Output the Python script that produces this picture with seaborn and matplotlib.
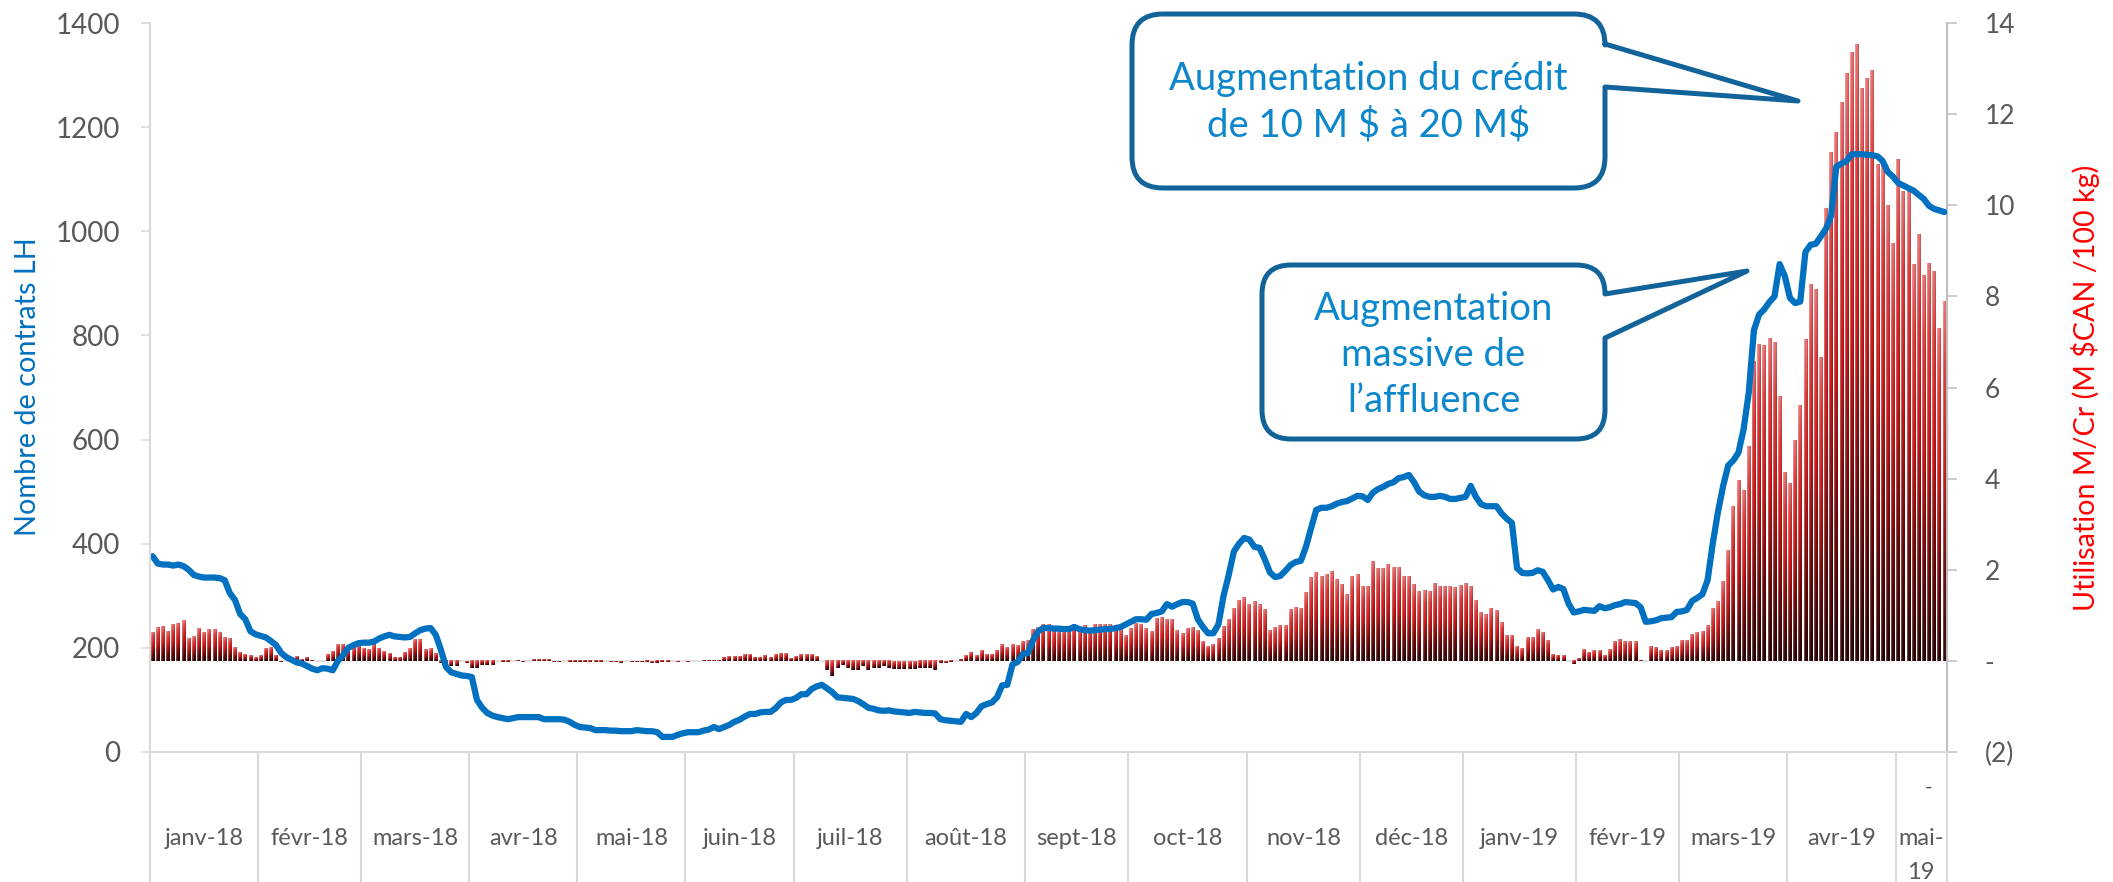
import numpy as np
import matplotlib
matplotlib.use("Agg")
import matplotlib.pyplot as plt
import seaborn as sns
from matplotlib.path import Path
from matplotlib.patches import PathPatch
from matplotlib.colors import LinearSegmentedColormap
from matplotlib.ticker import FuncFormatter
import matplotlib.transforms as mtransforms

# ---------------- data ----------------
months = ["janv-18", "févr-18", "mars-18", "avr-18", "mai-18", "juin-18", "juil-18",
          "août-18", "sept-18", "oct-18", "nov-18", "déc-18", "janv-19", "févr-19",
          "mars-19", "avr-19", "mai-19"]
days_per_month = [21, 20, 21, 21, 21, 21, 22, 23, 20, 23, 22, 20, 22, 20, 21, 21, 10]

# Nombre de contrats LH (left axis, blue line), one value per trading day
contracts_jan18 = [376, 362, 360, 360, 358, 360, 357, 350, 340, 337, 335, 335, 335, 334, 330, 305, 292, 265, 255, 232, 226]
contracts_feb18 = [223, 220, 213, 205, 190, 182, 177, 172, 170, 165, 160, 157, 161, 160, 157, 175, 186, 200, 205, 209]
contracts_mar18 = [210, 210, 212, 218, 222, 225, 222, 221, 220, 221, 228, 234, 237, 238, 225, 196, 163, 153, 150, 147, 146]
contracts_apr18 = [144, 100, 85, 75, 70, 67, 65, 63, 65, 67, 67, 67, 67, 67, 63, 63, 63, 63, 62, 58, 52]
contracts_may18 = [48, 47, 46, 42, 42, 42, 41, 41, 40, 40, 40, 42, 41, 40, 40, 38, 29, 29, 29, 33, 36]
contracts_jun18 = [38, 38, 38, 41, 43, 48, 44, 48, 52, 58, 62, 68, 73, 73, 76, 77, 77, 84, 95, 100, 100]
contracts_jul18 = [104, 111, 111, 121, 126, 129, 122, 115, 105, 104, 103, 102, 98, 92, 85, 83, 80, 79, 80, 78, 77, 76]
contracts_aug18 = [75, 77, 76, 75, 75, 74, 63, 61, 60, 59, 58, 73, 67, 75, 88, 92, 95, 105, 128, 129, 168, 173, 188]
contracts_sep18 = [190, 215, 232, 238, 238, 237, 237, 236, 236, 240, 236, 234, 233, 234, 235, 236, 236, 238, 240, 245]
contracts_oct18 = [250, 255, 255, 254, 265, 267, 270, 284, 279, 284, 288, 288, 285, 255, 240, 228, 228, 245, 300, 340, 385, 400, 411]
contracts_nov18 = [408, 394, 392, 370, 345, 336, 338, 348, 359, 365, 367, 394, 430, 465, 469, 469, 472, 477, 480, 482, 487, 492]
contracts_dec18 = [491, 484, 498, 505, 509, 515, 518, 526, 528, 532, 518, 500, 493, 490, 490, 492, 490, 486, 486, 488]
contracts_jan19 = [490, 511, 490, 476, 472, 472, 472, 458, 448, 440, 353, 344, 343, 344, 349, 346, 330, 312, 317, 313, 285, 268]
contracts_feb19 = [270, 273, 272, 271, 280, 276, 278, 282, 284, 288, 287, 286, 278, 250, 251, 253, 257, 258, 259, 269]
contracts_mar19 = [270, 273, 290, 296, 303, 330, 400, 460, 510, 550, 560, 575, 620, 690, 810, 840, 850, 864, 875, 937, 914]
contracts_apr19 = [872, 862, 865, 960, 974, 976, 990, 1005, 1030, 1124, 1130, 1135, 1148, 1148, 1148, 1147, 1146, 1144, 1135, 1114, 1105]
contracts_may19 = [1093, 1088, 1083, 1078, 1070, 1062, 1049, 1043, 1040, 1037]

# Utilisation M/Cr (M $CAN /100 kg) (right axis, red bars)
util_jan18 = [0.62, 0.73, 0.75, 0.64, 0.80, 0.83, 0.89, 0.50, 0.53, 0.72, 0.62, 0.69, 0.69, 0.62, 0.51, 0.50, 0.29, 0.18, 0.15, 0.12, 0.07]
util_feb18 = [0.12, 0.27, 0.29, 0.12, -0.02, 0, 0, 0.09, 0.03, 0.07, 0.02, 0, 0, 0.15, 0.20, 0.37, 0.37, 0.26, 0.29, 0.33]
util_mar18 = [0.28, 0.26, 0.37, 0.28, 0.20, 0.16, 0.07, 0.07, 0.18, 0.28, 0.48, 0.48, 0.26, 0.27, 0.17, -0.05, -0.09, -0.12, -0.12, 0, -0.04]
util_apr18 = [-0.16, -0.16, -0.09, -0.09, -0.09, 0, -0.03, -0.03, 0, 0.01, -0.02, 0, 0.04, 0.03, 0.03, 0.03, -0.02, -0.02, 0, -0.03, -0.03]
util_may18 = [-0.03, -0.03, -0.03, -0.03, -0.03, 0, -0.02, -0.02, -0.04, 0, -0.02, -0.02, -0.02, -0.03, -0.04, -0.05, -0.03, -0.03, 0, -0.02, 0]
util_jun18 = [-0.02, 0, 0, 0.02, 0.02, 0.02, 0.02, 0.07, 0.09, 0.09, 0.09, 0.15, 0.15, 0.08, 0.08, 0.12, 0.07, 0.15, 0.16, 0.16, 0.06]
util_jul18 = [0.09, 0.15, 0.15, 0.15, 0.09, 0, -0.20, -0.34, -0.16, -0.09, -0.16, -0.20, -0.20, -0.12, -0.20, -0.16, -0.16, -0.12, -0.16, -0.17, -0.17, -0.17]
util_aug18 = [-0.17, -0.17, -0.16, -0.16, -0.16, -0.20, -0.05, -0.04, -0.03, 0, 0.04, 0.13, 0.18, 0.13, 0.24, 0.15, 0.15, 0.22, 0.37, 0.29, 0.36, 0.35, 0.42]
util_sep18 = [0.46, 0.69, 0.74, 0.80, 0.80, 0.72, 0.69, 0.69, 0.72, 0.80, 0.72, 0.77, 0.69, 0.80, 0.80, 0.80, 0.80, 0.77, 0.69, 0.57]
util_oct18 = [0.72, 0.83, 0.80, 0.72, 0.64, 0.94, 0.96, 0.90, 0.91, 0.68, 0.61, 0.72, 0.74, 0.67, 0.42, 0.31, 0.37, 0.49, 0.75, 0.90, 1.15, 1.32, 1.40]
util_nov18 = [1.23, 1.30, 1.25, 1.13, 0.67, 0.74, 0.79, 0.79, 1.12, 1.18, 1.15, 1.50, 1.83, 1.94, 1.86, 1.89, 1.97, 1.78, 1.67, 1.47, 1.86, 1.89]
util_dec18 = [1.63, 1.63, 2.19, 2.02, 2.02, 2.11, 2.05, 2.05, 1.85, 1.86, 1.67, 1.52, 1.54, 1.52, 1.69, 1.63, 1.63, 1.63, 1.61, 1.65]
util_jan19 = [1.69, 1.63, 1.32, 1.06, 1.01, 1.15, 1.10, 0.84, 0.57, 0.55, 0.31, 0.28, 0.51, 0.51, 0.70, 0.63, 0.46, 0.15, 0.13, 0.13, 0, -0.07]
util_feb19 = [0.06, 0.26, 0.18, 0.24, 0.24, 0.13, 0.26, 0.42, 0.47, 0.42, 0.42, 0.42, 0.02, 0, 0.31, 0.29, 0.23, 0.24, 0.29, 0.32]
util_mar19 = [0.44, 0.44, 0.59, 0.63, 0.65, 0.78, 1.16, 1.30, 1.74, 2.43, 3.40, 3.97, 3.75, 4.70, 6.58, 6.95, 6.93, 7.08, 7.00, 5.80, 4.13]
util_apr19 = [3.90, 4.85, 5.60, 7.05, 8.26, 8.15, 6.66, 9.94, 11.17, 11.59, 12.26, 12.90, 13.35, 13.52, 12.57, 12.78, 12.96, 10.9, 10.9, 10.0, 9.16]
util_may19 = [11.0, 10.3, 10.3, 8.7, 9.36, 8.46, 8.73, 8.54, 7.3, 7.9]

left_ticks = [0, 200, 400, 600, 800, 1000, 1200, 1400]
right_ticks = [-2, 0, 2, 4, 6, 8, 10, 12, 14]
left_label = "Nombre de contrats LH"
right_label = "Utilisation M/Cr (M $CAN /100 kg)"
callout_1 = "Augmentation du crédit\nde 10 M $ à 20 M$"
callout_2 = "Augmentation\nmassive de\nl\u2019affluence"

contracts = (contracts_jan18 + contracts_feb18 + contracts_mar18 + contracts_apr18 + contracts_may18 +
             contracts_jun18 + contracts_jul18 + contracts_aug18 + contracts_sep18 + contracts_oct18 +
             contracts_nov18 + contracts_dec18 + contracts_jan19 + contracts_feb19 + contracts_mar19 +
             contracts_apr19 + contracts_may19)
util = (util_jan18 + util_feb18 + util_mar18 + util_apr18 + util_may18 + util_jun18 + util_jul18 +
        util_aug18 + util_sep18 + util_oct18 + util_nov18 + util_dec18 + util_jan19 + util_feb19 +
        util_mar19 + util_apr19 + util_may19)
n_days = sum(days_per_month)
assert len(contracts) == n_days and len(util) == n_days
day_idx = np.arange(n_days)

# ---------------- style ----------------
sns.set_theme(style="white")
plt.rcParams['font.family'] = ['Lato', 'DejaVu Sans']

W, H = 2113, 882
fig = plt.figure(figsize=(W / 100, H / 100), dpi=100)
fig.patch.set_facecolor("white")
ax_l = fig.add_axes([150 / W, 1 - 752 / H, (1947 - 150) / W, (752 - 23) / H])
ax_r = ax_l.twinx()
ax_l.set_zorder(ax_r.get_zorder() + 1)
ax_l.patch.set_visible(False)
ax_r.patch.set_facecolor("white")

# ---------------- bars (right axis) ----------------
sns.barplot(x=day_idx, y=util, ax=ax_r, width=0.72, color="#8b0000",
            saturation=1, errorbar=None, native_scale=False)

cmap = LinearSegmentedColormap.from_list("redgrad", [
    (0.0, "#2a0202"), (0.25, "#6a0707"), (0.55, "#c41818"), (0.82, "#d93a3a"), (1.0, "#e87070")])
rows = np.linspace(0, 1, 96)[:, None]
cols = np.linspace(0, 1, 10)[None, :]
base = cmap(np.repeat(rows, 10, axis=1))[..., :3]
lighten = np.clip(0.35 - cols * 0.9, 0, None)[..., None]
darken = np.where(cols > 0.8, 0.8, 1.0)[..., None]
img = np.clip((base + (1 - base) * lighten) * darken, 0, 1)

for p in ax_r.patches:
    h = p.get_height()
    if h == 0 or np.isnan(h):
        continue
    x0 = p.get_x()
    x1 = x0 + p.get_width()
    y0, y1 = sorted([p.get_y(), p.get_y() + h])
    ax_r.imshow(img, extent=(x0, x1, y0, y1), origin="lower", aspect="auto",
                interpolation="bilinear", zorder=2)
    p.set_zorder(1.5)

ax_r.axhline(0, color="#d9d9d9", lw=1.2, zorder=1)

# ---------------- line (left axis) ----------------
sns.lineplot(x=day_idx, y=contracts, ax=ax_l, color="#0070C0", linewidth=4.5,
             solid_capstyle="round", solid_joinstyle="round")

# ---------------- axes ----------------
for a in (ax_l, ax_r):
    a.set_xlim(-0.5, n_days - 0.5)
    a.set_xticks([])
    a.set_xlabel("")
    a.set_ylabel("")
    a.grid(False)
ax_l.set_ylim(0, 1400)
ax_r.set_ylim(-2, 14)

ax_l.set_yticks(left_ticks)
ax_l.set_yticklabels([str(t) for t in left_ticks])
ax_l.tick_params(axis="y", which="major", left=True, right=False, length=6.5, width=1.1,
                 color="#d9d9d9", pad=15, labelsize=20, labelcolor="#595959")
ax_r.set_yticks(right_ticks)
ax_r.yaxis.set_major_formatter(FuncFormatter(
    lambda v, pos: "-" if abs(v) < 1e-9 else (f"({int(-v)})" if v < 0 else f"{int(v)}")))
ax_r.tick_params(axis="y", which="major", right=True, left=False, length=7, width=1.1,
                 color="#bfbfbf", pad=20, labelsize=19, labelcolor="#595959")

for s in ["top", "right"]:
    ax_l.spines[s].set_visible(False)
for s in ["left", "bottom"]:
    ax_l.spines[s].set_color("#d9d9d9")
    ax_l.spines[s].set_linewidth(1.5)
for s in ["top", "left", "bottom"]:
    ax_r.spines[s].set_visible(False)
ax_r.spines["right"].set_color("#bfbfbf")
ax_r.spines["right"].set_linewidth(1.5)

# month category separators and labels
trans = mtransforms.blended_transform_factory(ax_l.transData, ax_l.transAxes)
starts = np.concatenate([[0], np.cumsum(days_per_month)])
for b in starts:
    ax_l.plot([b - 0.5, b - 0.5], [0, -0.18], transform=trans, color="#d9d9d9",
              lw=1.5, clip_on=False, zorder=0)
for i, m in enumerate(months):
    c = starts[i] + days_per_month[i] / 2 - 0.5
    if m == "mai-19":
        ax_l.text(c, -0.118, "mai-", transform=trans, ha="center", va="center",
                  fontsize=17, color="#595959")
        ax_l.text(c, -0.165, "19", transform=trans, ha="center", va="center",
                  fontsize=17, color="#595959")
        ax_l.text(c + 1.4, -0.049, "-", transform=trans, ha="center", va="center",
                  fontsize=15, color="#595959")
    else:
        ax_l.text(c, -0.118, m, transform=trans, ha="center", va="center",
                  fontsize=17, color="#595959")

# axis titles, fitted to the length they have in the reference
renderer = fig.canvas.get_renderer()


def fitted_vertical_text(x, y, s, target_len, color):
    t = fig.text(x / W, 1 - y / H, s, rotation=90, ha="center", va="center",
                 fontsize=20, color=color, parse_math=False)
    ext = t.get_window_extent(renderer)
    t.set_fontsize(20 * target_len / ext.height)
    return t


fitted_vertical_text(28, 387, left_label, 300, "#0070C0")
fitted_vertical_text(2086, 388, right_label, 446, "#FF0000")


# ---------------- callouts ----------------
def callout_path(L, T, R, B, r, p1, p2, tip):
    verts = [(L + r, T), (R - r, T), (R, T), (R, T + r), (R, p1), tip, (R, p2),
             (R, B - r), (R, B), (R - r, B), (L + r, B), (L, B), (L, B - r),
             (L, T + r), (L, T), (L + r, T), (L + r, T)]
    codes = [Path.MOVETO, Path.LINETO, Path.CURVE3, Path.CURVE3, Path.LINETO, Path.LINETO,
             Path.LINETO, Path.LINETO, Path.CURVE3, Path.CURVE3, Path.LINETO, Path.CURVE3,
             Path.CURVE3, Path.LINETO, Path.CURVE3, Path.CURVE3, Path.CLOSEPOLY]
    verts = [(x / W, 1 - y / H) for x, y in verts]
    return Path(verts, codes)


for (L, T, R, B, r, p1, p2, tip, text, ty) in [
        (1132, 14, 1605, 188, 31, 44, 87, (1798, 101), callout_1, 102),
        (1262, 265, 1605, 439, 29, 294, 338, (1747, 271), callout_2, 355)]:
    patch = PathPatch(callout_path(L, T, R, B, r, p1, p2, tip), transform=fig.transFigure,
                      facecolor="white", edgecolor="#12639a", lw=3.6, joinstyle="round",
                      zorder=10)
    fig.add_artist(patch)
    fig.text(((L + R) / 2) / W, 1 - ty / H, text, ha="center", va="center", fontsize=27.5,
             color="#0d87cc", linespacing=1.33, zorder=11, parse_math=False)

fig.savefig("out.png", dpi=100, facecolor="white")
